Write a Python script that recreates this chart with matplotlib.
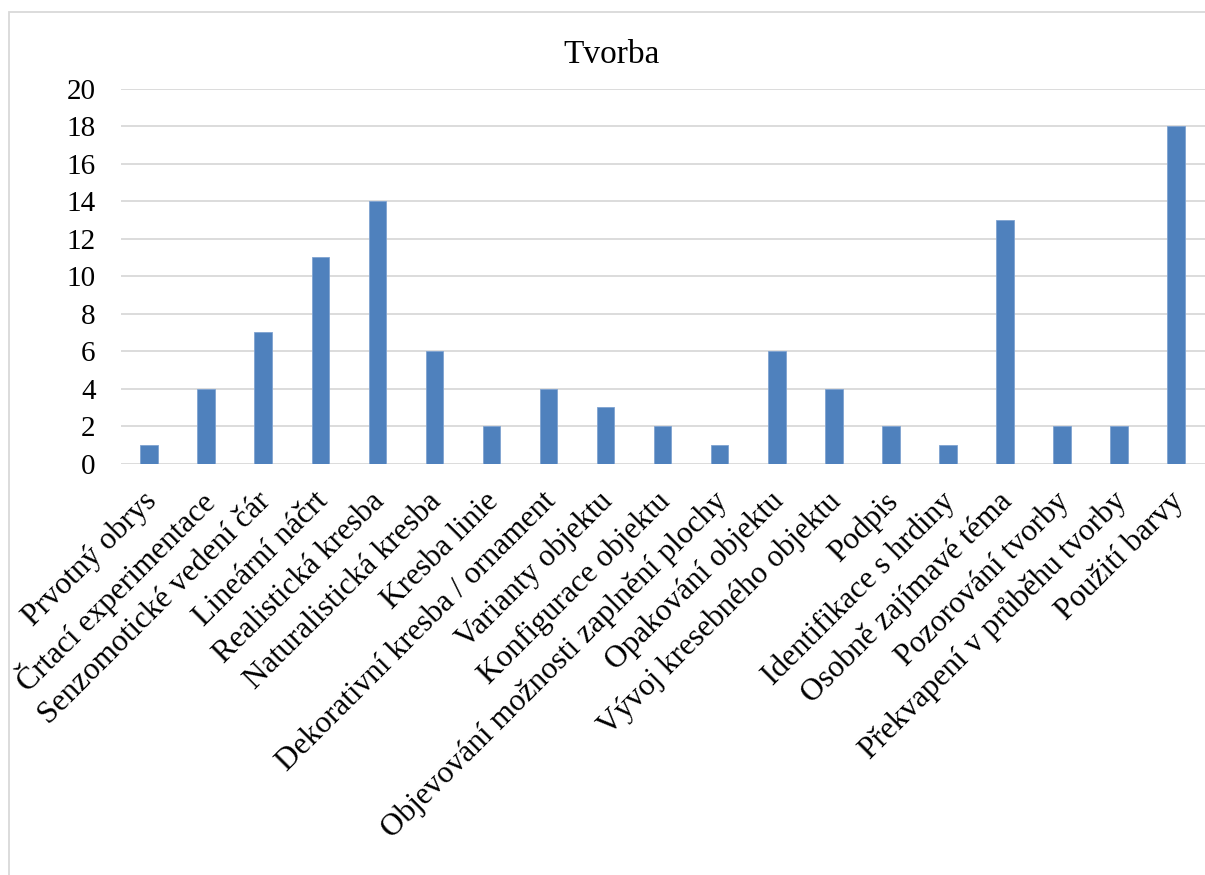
import matplotlib
matplotlib.use("Agg")
import matplotlib.pyplot as plt
from matplotlib.patches import Rectangle
from matplotlib.transforms import ScaledTranslation

categories = [
    "Prvotný obrys", "Črtací experimentace", "Senzomotické vedení čár",
    "Lineární náčrt", "Realistická kresba", "Naturalistická kresba",
    "Kresba linie", "Dekorativní kresba / ornament", "Varianty objektu",
    "Konfigurace objektu", "Objevování možnosti zaplnění plochy",
    "Opakování objektu", "Vývoj kresebného objektu", "Podpis",
    "Identifikace s hrdiny", "Osobně zajímavé téma", "Pozorování tvorby",
    "Překvapení v průběhu tvorby", "Použití barvy",
]
values = [1, 4, 7, 11, 14, 6, 2, 4, 3, 2, 1, 6, 4, 2, 1, 13, 2, 2, 18]
yticks = [0, 2, 4, 6, 8, 10, 12, 14, 16, 18, 20]
title = "Tvorba"

plt.rcParams['font.family'] = ['Liberation Serif', 'DejaVu Serif']

W, H = 1205, 875
fig = plt.figure(figsize=(W / 100, H / 100), dpi=100)

# chart border (extends beyond the image on the right and bottom)
fig.patches.append(Rectangle((8.5 / W, -0.1), 1.2, 1 - 12.5 / H + 0.1,
                             transform=fig.transFigure, fill=False,
                             edgecolor='#D9D9D9', linewidth=1.3))

left = 120.7 / W
right = 1204.5 / W
bottom = 1 - 463.7 / H
top = 1 - 88.7 / H
ax = fig.add_axes([left, bottom, right - left, top - bottom])

x = list(range(len(categories)))
ax.bar(x, values, width=0.31, color='#4F81BD', edgecolor='#7FA3D1',
       linewidth=0.6, zorder=3)
ax.set_xlim(-0.5, len(categories) - 0.5)
ax.set_ylim(0, 20)
ax.set_yticks(yticks)
ax.set_yticklabels([str(t) for t in yticks], fontsize=21)
ax.yaxis.grid(True, color='#D9D9D9', linewidth=1.3, zorder=0)
ax.set_axisbelow(True)
for s in ax.spines.values():
    s.set_visible(False)
ax.tick_params(axis='y', length=0, pad=18)
ax.tick_params(axis='x', length=0, pad=24)
ax.set_xticks(x)
ax.set_xticklabels(categories, rotation=45, ha='right', va='center',
                   rotation_mode='anchor', fontsize=22.5)
shift = ScaledTranslation(3 / 100, 0, fig.dpi_scale_trans)
for lbl in ax.get_xticklabels():
    lbl.set_transform(lbl.get_transform() + shift)

fig.text(612 / W, 1 - 55 / H, title, ha='center', va='center', fontsize=24)

fig.savefig('out.png', dpi=100)
